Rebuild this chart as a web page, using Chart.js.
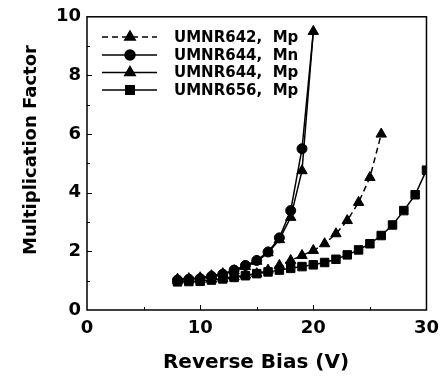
<!DOCTYPE html>
<html>
<head>
<meta charset="utf-8">
<script src="https://cdn.jsdelivr.net/npm/chart.js@4"></script>
<style>
  html, body { margin: 0; padding: 0; background: #fff; }
  #wrap { position: relative; width: 447px; height: 387px; }
</style>
</head>
<body>
<div id="wrap"><canvas id="mchart" role="img" aria-label="Multiplication factor vs reverse bias"></canvas></div>
<script>
// ── data ──
const seriesNames = ['UMNR642,  Mp', 'UMNR644,  Mn', 'UMNR644,  Mp', 'UMNR656,  Mp']

const bias642   = [8, 9, 10, 11, 12, 13, 14, 15, 16, 17, 18, 19, 20, 21, 22, 23, 24, 25, 26]
const mult642Mp = [1.0, 1.02, 1.03, 1.05, 1.08, 1.13, 1.19, 1.24, 1.36, 1.52, 1.69, 1.86, 2.03, 2.26, 2.6, 3.05, 3.67, 4.52, 6.0]

const bias644   = [8, 9, 10, 11, 12, 13, 14, 15, 16, 17, 18, 19, 20]
const mult644Mn = [1.02, 1.05, 1.07, 1.15, 1.22, 1.36, 1.52, 1.69, 1.98, 2.46, 3.39, 5.5, 9.5]
const mult644Mp = [1.05, 1.07, 1.1, 1.17, 1.24, 1.34, 1.48, 1.66, 1.95, 2.4, 3.16, 4.75, 9.5]

const bias656   = [8, 9, 10, 11, 12, 13, 14, 15, 16, 17, 18, 19, 20, 21, 22, 23, 24, 25, 26, 27, 28, 29, 30]
const mult656Mp = [0.96, 0.97, 0.98, 1.02, 1.06, 1.11, 1.17, 1.24, 1.3, 1.36, 1.42, 1.48, 1.54, 1.62, 1.73, 1.88, 2.05, 2.26, 2.54, 2.9, 3.39, 3.93, 4.77]

const xTicks = [0, 10, 20, 30]
const yTicks = [0, 2, 4, 6, 8, 10]
const xTitle = 'Reverse Bias (V)'
const yTitle = 'Multiplication Factor'

const pts = (xs, ys) => xs.map((x, i) => ({ x, y: ys[i] }))

const FONT = '"DejaVu Sans", Arial, Helvetica, sans-serif'

// inward ticks, closed frame, axis titles and the legend inside the plot
const framePlugin = {
  id: 'frame',
  afterDraw(chart) {
    const { ctx, chartArea: a, scales: { x, y } } = chart
    ctx.save()
    ctx.strokeStyle = '#000'
    ctx.lineWidth = 1.5
    ctx.strokeRect(a.left, a.top, a.right - a.left, a.bottom - a.top)
    ctx.lineWidth = 1
    ctx.beginPath()
    for (let v = 1; v < 10; v++) {
      const py = Math.round(y.getPixelForValue(v)) + 0.5
      ctx.moveTo(a.left, py); ctx.lineTo(a.left + (v % 2 ? 3 : 5), py)
    }
    for (let v = 5; v < 30; v += 5) {
      const px = Math.round(x.getPixelForValue(v)) + 0.5
      ctx.moveTo(px, a.bottom); ctx.lineTo(px, a.bottom - (v % 10 ? 3 : 5))
    }
    ctx.stroke()

    // axis titles
    ctx.fillStyle = '#000'
    ctx.textAlign = 'center'
    ctx.textBaseline = 'middle'
    ctx.font = 'bold 20px ' + FONT
    ctx.fillText(xTitle, 256, 363)
    ctx.save()
    ctx.translate(31, 150); ctx.rotate(-Math.PI / 2)
    ctx.font = 'bold 18px ' + FONT
    ctx.fillText(yTitle, 0, 0)
    ctx.restore()

    // legend
    const rowY = [37, 55, 72.5, 90]
    ctx.textAlign = 'left'
    chart.data.datasets.forEach((ds, i) => {
      const yy = rowY[i]
      ctx.lineWidth = ds.borderWidth
      ctx.setLineDash(ds.borderDash || [])
      ctx.beginPath(); ctx.moveTo(102, yy); ctx.lineTo(157, yy); ctx.stroke()
      ctx.setLineDash([])
      Chart.helpers.drawPoint(ctx, { pointStyle: ds.pointStyle, radius: ds.legendRadius, borderWidth: 1 }, 130, yy)
      ctx.fill()
      ctx.font = 'bold 15px ' + FONT
      ctx.fillText(ds.label, 174, yy + 1)
    })
    ctx.restore()
  }
}

const common = { borderColor: '#000', backgroundColor: '#000', borderWidth: 1.5, pointBorderWidth: 1, tension: 0 }

new Chart(document.getElementById('mchart'), {
  type: 'line',
  data: {
    datasets: [
      { ...common, label: seriesNames[0], data: pts(bias642, mult642Mp), borderDash: [6, 4], pointStyle: 'triangle', pointRadius: 6, legendRadius: 6 },
      { ...common, label: seriesNames[1], data: pts(bias644, mult644Mn), pointStyle: 'circle',
        pointRadius: bias644.map((v, i) => i === bias644.length - 1 ? 0 : 5), legendRadius: 5 },
      { ...common, label: seriesNames[2], data: pts(bias644, mult644Mp), pointStyle: 'triangle', pointRadius: 6, legendRadius: 6 },
      { ...common, label: seriesNames[3], data: pts(bias656, mult656Mp), pointStyle: 'rect', pointRadius: 6, legendRadius: 6 },
    ]
  },
  options: {
    responsive: true, maintainAspectRatio: false, animation: false,
    layout: { padding: { left: 0, right: 13, top: 15, bottom: 0 } },
    plugins: { legend: { display: false }, tooltip: { enabled: false } },
    scales: {
      x: {
        type: 'linear', min: 0, max: 30,
        afterFit: s => { s.height = 77 },
        afterBuildTicks: s => { s.ticks = xTicks.map(v => ({ value: v })) },
        grid: { display: false, drawTicks: false },
        border: { display: false },
        ticks: { color: '#000', padding: 8, font: { family: FONT, size: 18, weight: 'bold' } },
      },
      y: {
        type: 'linear', min: 0, max: 10,
        afterFit: s => { s.width = 87 },
        afterBuildTicks: s => { s.ticks = yTicks.map(v => ({ value: v })) },
        grid: { display: false, drawTicks: false },
        border: { display: false },
        ticks: { color: '#000', padding: 6, font: { family: FONT, size: 18, weight: 'bold' } },
      },
    },
  },
  plugins: [framePlugin],
})
</script>
</body>
</html>
